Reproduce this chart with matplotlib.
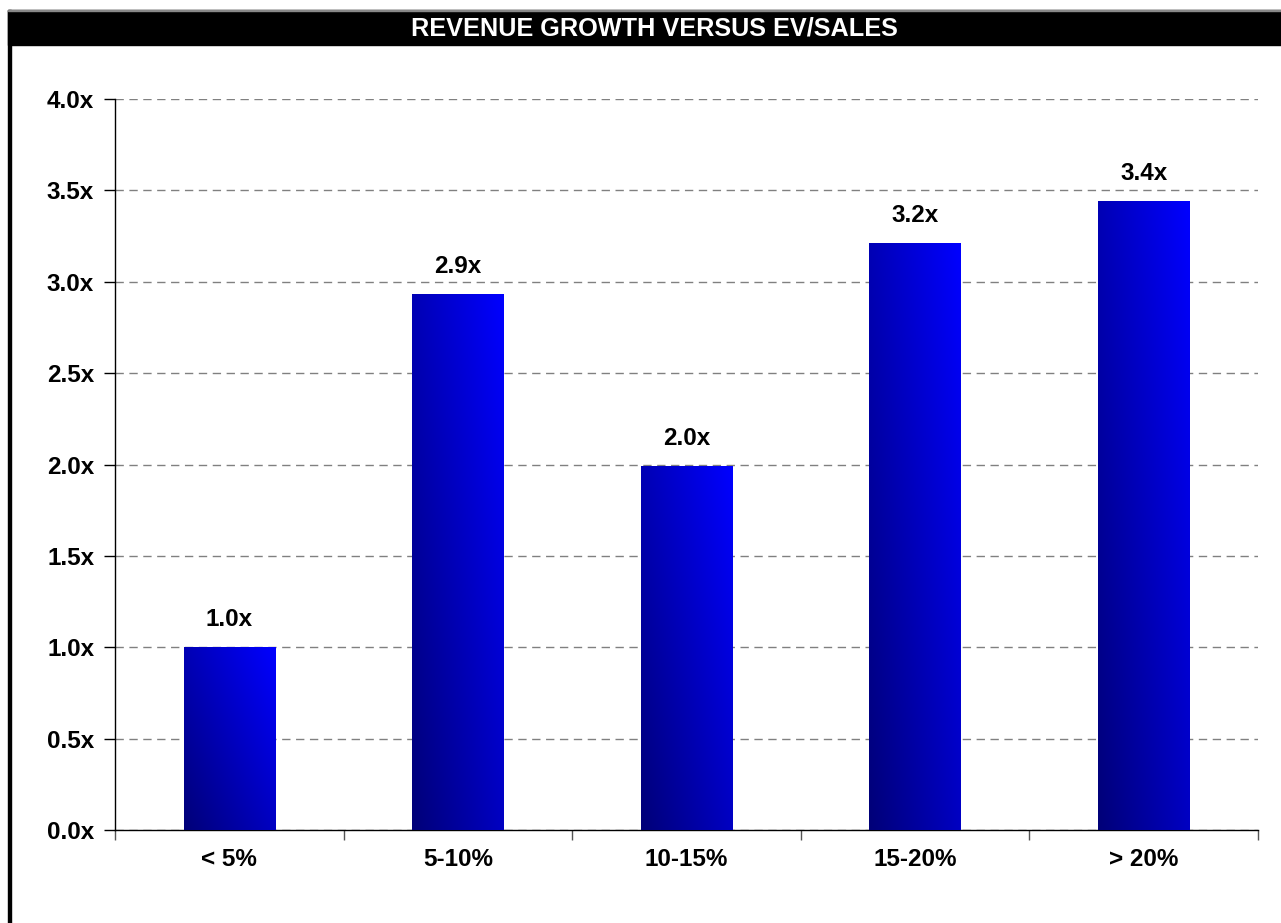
import numpy as np
import matplotlib.pyplot as plt
from matplotlib.patches import Rectangle
from matplotlib.colors import LinearSegmentedColormap

plt.rcParams['font.family'] = ['Liberation Sans', 'DejaVu Sans']

# data
categories = ['< 5%', '5-10%', '10-15%', '15-20%', '> 20%']
values = [1.0, 2.93, 1.99, 3.21, 3.44]
labels = ['1.0x', '2.9x', '2.0x', '3.2x', '3.4x']
yticks = [0.0, 0.5, 1.0, 1.5, 2.0, 2.5, 3.0, 3.5, 4.0]
title = 'REVENUE GROWTH VERSUS EV/SALES'

W, H = 1281, 923
fig = plt.figure(figsize=(W / 100, H / 100), dpi=100)

# title bar and frame
fig.patches.append(Rectangle((8 / W, 1 - 45 / H), 1 - 8 / W, 35 / H,
                             transform=fig.transFigure, color='black', zorder=0))
fig.patches.append(Rectangle((8 / W, 0), 3 / W, 1 - 10 / H,
                             transform=fig.transFigure, color='black', zorder=0))
fig.patches.append(Rectangle((8 / W, 1 - 11 / H), 1 - 8 / W, 1.5 / H,
                             transform=fig.transFigure, color='#888888', zorder=1))
fig.text(654 / W, 1 - 29 / H, title, color='white', fontsize=18.2,
         fontweight='bold', ha='center', va='center')

ax = fig.add_axes([115 / W, 1 - 830 / H, (1258 - 115) / W, (830 - 99) / H])
x = np.arange(len(categories))
width = 0.40
bars = ax.bar(x, values, width=width, color='none', zorder=3)

# diagonal gradient: navy bottom-left -> blue top-right
cmap = LinearSegmentedColormap.from_list('blu', ['#000078', '#0000FF'])
n = 100
u, v = np.meshgrid(np.linspace(0, 1, n), np.linspace(0, 1, n))
grad = 0.55 * u + 0.45 * v
for b, val, lab in zip(bars, values, labels):
    x0 = b.get_x()
    ax.imshow(grad, cmap=cmap, origin='lower', aspect='auto',
              extent=[x0, x0 + b.get_width(), 0, val], zorder=3)
    ax.text(b.get_x() + b.get_width() / 2, val + 0.09, lab, ha='center',
            va='bottom', fontsize=17.5, fontweight='bold')

ax.set_xlim(-0.5, len(categories) - 0.5)
ax.set_ylim(0, 4.0)
ax.set_yticks(yticks)
ax.set_yticklabels([f'{t:.1f}x' for t in yticks], fontsize=17.5, fontweight='bold')
ax.set_xticks(x)
ax.set_xticklabels(categories, fontsize=17.5, fontweight='bold')
ax.set_xticks(np.arange(-0.5, len(categories)), minor=True)
ax.tick_params(axis='x', which='major', length=0, pad=13)
ax.tick_params(axis='x', which='minor', length=7, width=1, color='#555555')
ax.tick_params(axis='y', length=8, width=1, pad=7)

ax.grid(axis='y', color='#808080', linestyle=(0, (6, 4)), linewidth=1, zorder=0)
ax.set_axisbelow(True)
for s in ['top', 'right']:
    ax.spines[s].set_visible(False)
ax.spines['left'].set_linewidth(1)
ax.spines['bottom'].set_linewidth(1)

fig.savefig('out.png', dpi=100)
